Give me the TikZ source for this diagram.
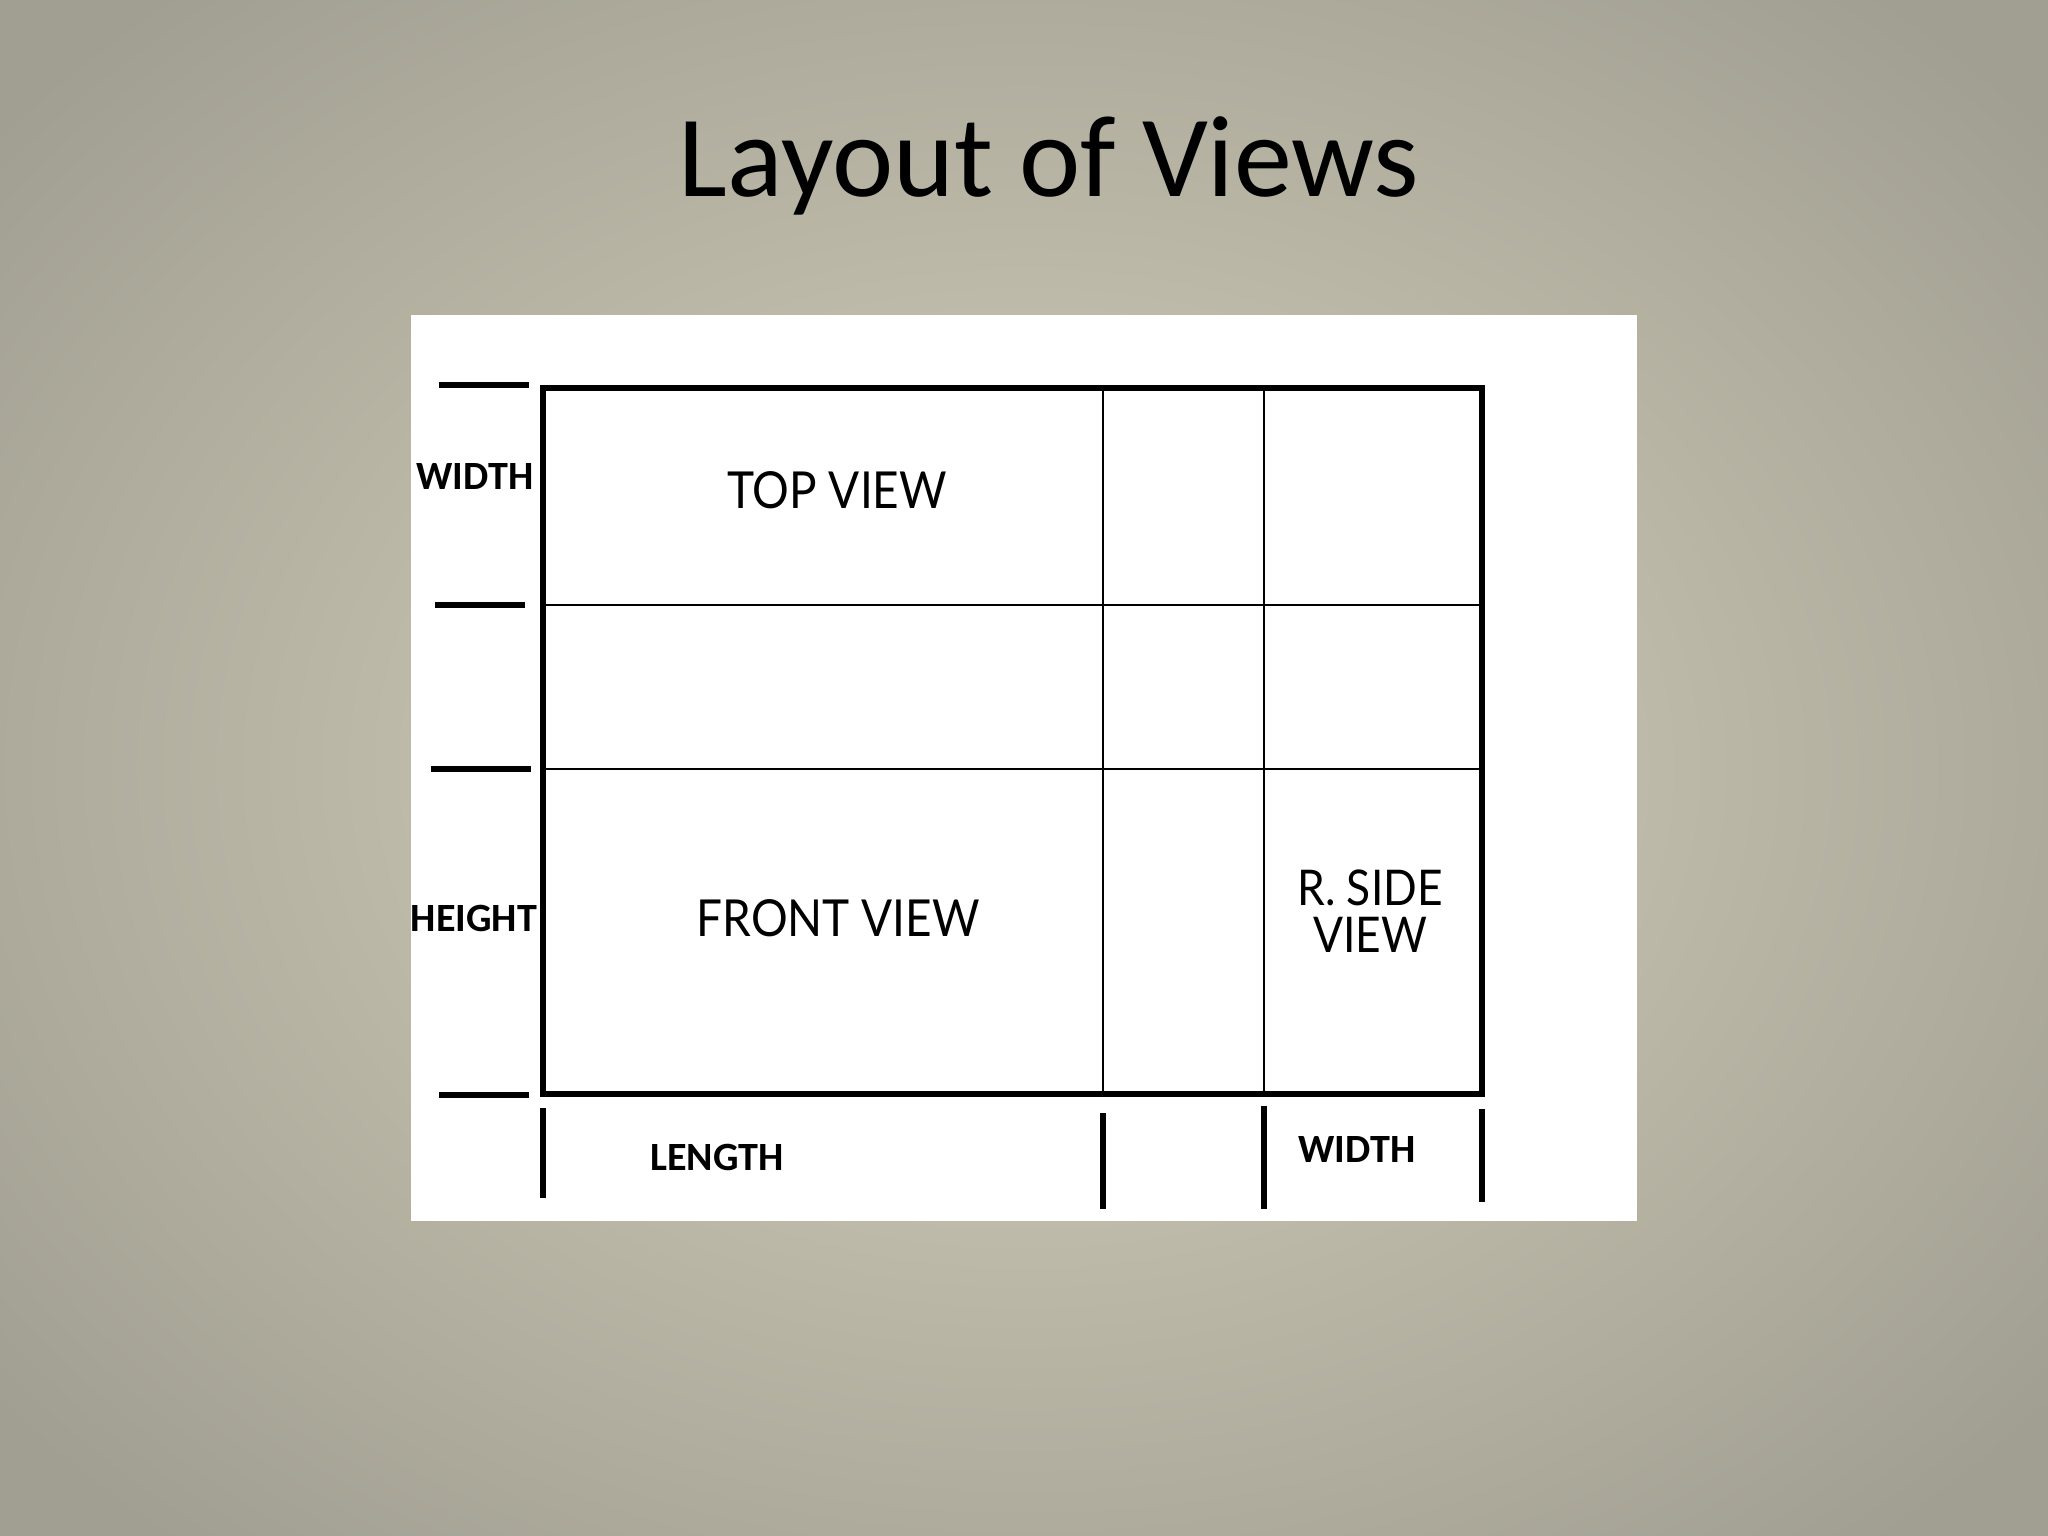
\documentclass[tikz,border=0pt]{standalone}
\usepackage{fontspec}
\setmainfont{Carlito}
\newfontfamily\handfont[FakeStretch=0.9]{Lato}
\definecolor{bginner}{HTML}{D7D1BD}
\definecolor{bgouter}{HTML}{A19F92}
\begin{document}
\begin{tikzpicture}[x=0.01cm,y=-0.01cm,
  frameline/.style={line width=1.6pt,black},
  gridline/.style={line width=0.55pt,black},
  tickline/.style={line width=1.7pt,black},
  dimlabel/.style={font=\fontsize{11.4}{12}\selectfont\bfseries,inner sep=0pt},
  viewlabel/.style={font=\handfont\fontsize{14.5}{15}\selectfont,inner sep=0pt,align=center}]
\useasboundingbox (0,0) rectangle (2048,1536);
\shade[inner color=bginner,outer color=bgouter] (-300,-250) rectangle (2348,1786);
\fill[white] (411,315) rectangle (1637,1221);
% title
\node[font=\fontsize{33}{38}\selectfont,inner sep=0pt] (title) at (1049,166) {Layout of Views};
% grid
\coordinate (tl) at (543,388);
\coordinate (br) at (1482,1094);
\draw[gridline] (543,605) -- (1482,605);
\draw[gridline] (543,769) -- (1482,769);
\draw[gridline] (1103,388) -- (1103,1094);
\draw[gridline] (1264,388) -- (1264,1094);
\draw[frameline] (tl) rectangle (br);
% left ticks
\draw[tickline] (439,385) -- (529,385);
\draw[tickline] (435,605) -- (525,605);
\draw[tickline] (431,769) -- (531,769);
\draw[tickline] (439,1095) -- (529,1095);
% bottom ticks
\draw[tickline] (543,1108) -- (543,1198);
\draw[tickline] (1103,1113) -- (1103,1209);
\draw[tickline] (1264,1106) -- (1264,1209);
\draw[tickline] (1482,1109) -- (1482,1202);
% labels
\node[dimlabel] (wleft) at (475,476) {WIDTH};
\node[dimlabel] (hleft) at (474,918) {HEIGHT};
\node[dimlabel] (len) at (717,1157) {LENGTH};
\node[dimlabel] (wbot) at (1357,1149) {WIDTH};
\node[viewlabel] (top) at (837,490) {TOP VIEW};
\node[viewlabel] (front) at (838,918) {FRONT VIEW};
\node[viewlabel,font=\handfont\fontsize{14}{13.2}\selectfont] (side) at (1370,911) {R. SIDE\\VIEW};
\end{tikzpicture}
\end{document}
